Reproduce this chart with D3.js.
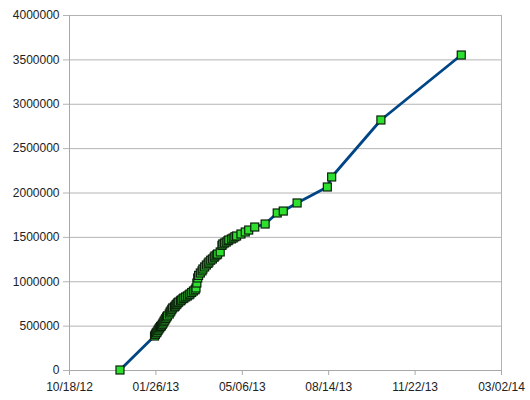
<!DOCTYPE html>
<html>
<head>
<meta charset="utf-8">
<script src="https://cdn.jsdelivr.net/npm/d3@7"></script>
<style>
  html, body { margin: 0; padding: 0; background: #ffffff; }
  svg { display: block; }
</style>
</head>
<body>
<svg id="chart" width="530" height="400"></svg>
<script>
// ---- data ----
const dates = [
  "2012-12-16",
  "2013-01-25","2013-01-26","2013-01-27","2013-01-28","2013-01-29","2013-01-30","2013-01-31",
  "2013-02-01","2013-02-02","2013-02-03","2013-02-04","2013-02-05","2013-02-06","2013-02-07",
  "2013-02-08","2013-02-09","2013-02-11","2013-02-12","2013-02-13","2013-02-14","2013-02-15",
  "2013-02-17","2013-02-18","2013-02-19","2013-02-20","2013-02-21","2013-02-22","2013-02-24",
  "2013-02-25","2013-02-27","2013-02-28","2013-03-02","2013-03-04","2013-03-06","2013-03-07",
  "2013-03-09","2013-03-11","2013-03-13","2013-03-14","2013-03-15","2013-03-16","2013-03-17",
  "2013-03-19","2013-03-21","2013-03-22","2013-03-24","2013-03-26","2013-03-28","2013-03-29",
  "2013-03-31","2013-04-02","2013-04-04","2013-04-05","2013-04-07","2013-04-08","2013-04-11",
  "2013-04-13","2013-04-14","2013-04-16","2013-04-18","2013-04-20","2013-04-21","2013-04-24",
  "2013-04-26","2013-04-28","2013-04-30","2013-05-05","2013-05-10","2013-05-14","2013-05-21",
  "2013-06-02","2013-06-16","2013-06-23","2013-07-09","2013-08-13","2013-08-18","2013-10-14",
  "2014-01-15"
];
const values = [
  0,
  383000, 402000, 418000, 428000, 447000, 462000, 476000,
  490000, 498000, 515000, 530000, 549000, 563000, 580000,
  597000, 610000, 631000, 652000, 665000, 684000, 699000,
  711000, 721000, 736000, 744000, 758000, 766000, 779000,
  789000, 804000, 811000, 823000, 834000, 847000, 856000,
  873000, 890000, 904000, 924000, 980000, 1037000, 1066000,
  1093000, 1117000, 1138000, 1161000, 1183000, 1202000, 1217000,
  1237000, 1251000, 1271000, 1285000, 1297000, 1307000, 1330000,
  1404000, 1420000, 1431000, 1442000, 1457000, 1465000, 1477000,
  1487000, 1501000, 1510000, 1532000, 1555000, 1577000, 1611000,
  1645000, 1769000, 1791000, 1882000, 2062000, 2175000, 2817000,
  3549000
];
const xTickLabels = ["10/18/12","01/26/13","05/06/13","08/14/13","11/22/13","03/02/14"];
const yTicks = [0, 500000, 1000000, 1500000, 2000000, 2500000, 3000000, 3500000, 4000000];

(function () {
// ---- setup ----
const parse = d3.timeParse("%Y-%m-%d");
const tickParse = d3.timeParse("%m/%d/%y");
const fmt = d3.timeFormat("%m/%d/%y");
const data = dates.map((d, i) => ({ date: parse(d), value: values[i] }));
const xTickDates = xTickLabels.map(tickParse);

const pL = 69, pR = 501, pT = 15, pB = 370;
const x = d3.scaleTime().domain([xTickDates[0], xTickDates[xTickDates.length - 1]]).range([pL, pR]);
const y = d3.scaleLinear().domain([0, 4000000]).range([pB, pT]);

const svg = d3.select("#chart");
const font = "'Liberation Sans', Arial, sans-serif";

// gridlines + y ticks
const yAxis = d3.axisLeft(y).tickValues(yTicks).tickFormat(d3.format("d"))
  .tickSize(-(pR - pL)).tickPadding(4).tickSizeOuter(0);
const gy = svg.append("g").attr("transform", `translate(${pL},0)`).call(yAxis);
gy.select(".domain").remove();
gy.selectAll(".tick line").attr("stroke", "#b4b4b4").attr("x1", -6).attr("stroke-width", 1);
gy.selectAll(".tick text").attr("font-family", font).attr("font-size", 12).attr("fill", "#222").attr("x", -9.5);

// left axis line and right border
svg.append("line").attr("x1", pL + 0.5).attr("x2", pL + 0.5).attr("y1", pT).attr("y2", pB)
  .attr("stroke", "#a8a8a8");
svg.append("line").attr("x1", pR + 0.5).attr("x2", pR + 0.5).attr("y1", pT).attr("y2", pB)
  .attr("stroke", "#b4b4b4");

// x axis
const xAxis = d3.axisBottom(x).tickValues(xTickDates).tickFormat(fmt).tickSize(5).tickSizeOuter(0).tickPadding(7);
const gx = svg.append("g").attr("transform", `translate(0,${pB})`).call(xAxis);
gx.select(".domain").attr("stroke", "#a8a8a8");
gx.selectAll(".tick line").attr("stroke", "#a8a8a8");
gx.selectAll(".tick text").attr("font-family", font).attr("font-size", 12).attr("fill", "#222");

// line
const line = d3.line().x(d => x(d.date)).y(d => y(d.value));
svg.append("path").datum(data).attr("d", line)
  .attr("fill", "none").attr("stroke", "#004586").attr("stroke-width", 2.8)
  .attr("stroke-linejoin", "round");

// markers
const ms = 8;
svg.append("g").selectAll("rect").data(data).join("rect")
  .attr("x", d => x(d.date) - ms / 2)
  .attr("y", d => y(d.value) - ms / 2)
  .attr("width", ms).attr("height", ms)
  .attr("fill", "#2ee02e").attr("stroke", "#0c200c").attr("stroke-width", 1.2);
})();
</script>
</body>
</html>
